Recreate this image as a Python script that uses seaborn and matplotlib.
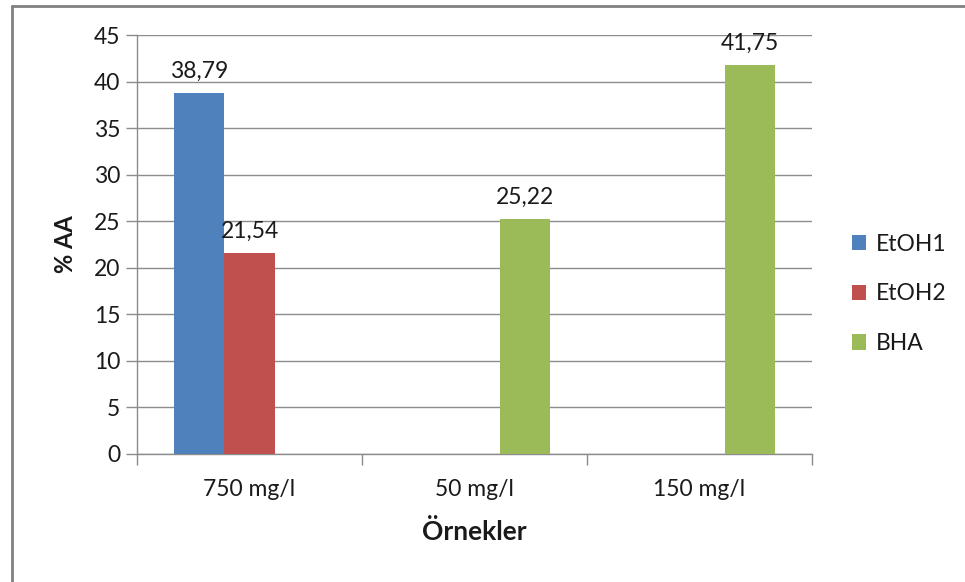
import matplotlib
matplotlib.use("Agg")
import matplotlib.pyplot as plt
from matplotlib.lines import Line2D
import seaborn as sns
import pandas as pd

# Antioxidant activity (% AA) per sample concentration
categories = ["750 mg/l", "50 mg/l", "150 mg/l"]
etoh1 = [38.79, None, None]
etoh2 = [21.54, None, None]
bha = [None, 25.22, 41.75]
series_names = ["EtOH1", "EtOH2", "BHA"]
colors = ["#4F81BD", "#C0504D", "#9BBB59"]
y_ticks = [0, 5, 10, 15, 20, 25, 30, 35, 40, 45]

rows = []
for name, vals in zip(series_names, [etoh1, etoh2, bha]):
    for cat, v in zip(categories, vals):
        if v is not None:
            rows.append({"Örnekler": cat, "seri": name, "AA": v})
df = pd.DataFrame(rows)

sns.set_theme(style="white")
plt.rcParams["font.family"] = ["Lato", "DejaVu Sans"]
text_color = "#1a1a1a"
grid_color = "#8c8c8c"

fig = plt.figure(figsize=(9.65, 5.82), dpi=100)
ax = fig.add_axes([137 / 965, 1 - 454 / 582, (812 - 137) / 965, (454 - 35) / 582])

sns.barplot(data=df, x="Örnekler", y="AA", hue="seri", order=categories,
            hue_order=series_names, palette=colors, width=0.667,
            errorbar=None, saturation=1, ax=ax, legend=True, zorder=3,
            linewidth=0)

for cont in ax.containers:
    labels = [f"{b.get_height():.2f}".replace(".", ",") for b in cont]
    ax.bar_label(cont, labels=labels, padding=8, fontsize=16.5, color=text_color)

ax.set_ylim(0, 45)
ax.set_xlim(-0.5, 2.5)
ax.set_yticks(y_ticks)
ax.set_yticklabels([str(t) for t in y_ticks])
ax.yaxis.grid(True, color=grid_color, linewidth=1.0, zorder=0)
ax.set_axisbelow(True)

# category boundary ticks on the x axis
ax.set_xticks([-0.5, 0.5, 1.5, 2.5], minor=True)
ax.tick_params(axis="x", which="major", length=0, labelsize=16.5,
               labelcolor=text_color, pad=18)
ax.tick_params(axis="x", which="minor", length=8, width=1, color=grid_color,
               direction="out", bottom=True)
ax.tick_params(axis="y", which="major", length=8, width=1, color=grid_color,
               direction="out", left=True, labelsize=16.5, labelcolor=text_color, pad=4)

for side in ["top", "right"]:
    ax.spines[side].set_visible(False)
for side in ["left", "bottom"]:
    ax.spines[side].set_color(grid_color)
    ax.spines[side].set_linewidth(1.0)

ax.set_xlabel("Örnekler", fontsize=19, fontweight="bold", color=text_color, labelpad=14)
ax.set_ylabel("% AA", fontsize=17, fontweight="bold", color=text_color, labelpad=12)

leg = ax.legend(loc="center left", bbox_to_anchor=(1.028, 0.382), frameon=False,
                fontsize=16.5, handlelength=0.65, handleheight=0.65,
                handletextpad=0.4, labelspacing=1.25)
for t in leg.get_texts():
    t.set_color(text_color)

# outer chart frame (top and left edges)
fig.add_artist(Line2D([11.5 / 965, 11.5 / 965], [0, 1 - 6 / 582],
                      transform=fig.transFigure, color="#808080", linewidth=2))
fig.add_artist(Line2D([11.5 / 965, 1], [1 - 6 / 582, 1 - 6 / 582],
                      transform=fig.transFigure, color="#808080", linewidth=2))

fig.savefig("out.png", dpi=100)
